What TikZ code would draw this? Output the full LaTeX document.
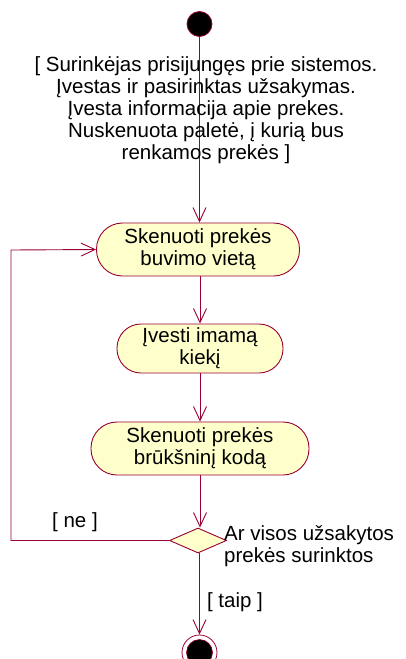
\documentclass[tikz,border=0pt]{standalone}
\usepackage{fontspec}
\setmainfont{Liberation Sans}
\usetikzlibrary{arrows.meta,shapes.geometric}
\definecolor{umlline}{HTML}{990033}
\definecolor{umlfill}{HTML}{FFFFCC}
\tikzset{
  umltext/.style={font=\fontsize{20.5}{22}\selectfont, text=black, inner sep=0pt},
  act/.style={draw=umlline, fill=umlfill, line width=0.9pt, rounded corners=26pt,
    umltext, align=center},
  flow/.style={draw=umlline, line width=0.9pt, -{Straight Barb[length=14pt,width=13pt,line width=0.9pt]}},
  plain/.style={draw=umlline, line width=0.9pt},
  decision/.style={diamond, draw=umlline, fill=umlfill, line width=0.9pt, aspect=2.3,
    minimum width=57pt, minimum height=25pt, inner sep=0pt},
}
\begin{document}
\begin{tikzpicture}[x=1pt,y=-1pt]
\useasboundingbox (0,0) rectangle (405,659);
\clip (0,0) rectangle (405,659);

% initial state
\node (start) [circle, draw=umlline, fill=black, line width=0.8pt, minimum size=25pt, inner sep=0pt] at (199.5,24) {};

% activities
\node (scanloc) [act, minimum width=203pt, minimum height=53pt] at (198,249.5) {Skenuoti prekės\\buvimo vietą};
\node (qty) [act, minimum width=166pt, minimum height=49pt, rounded corners=24pt] at (200,348.5) {Įvesti imamą\\kiekį};
\node (barcode) [act, minimum width=218pt, minimum height=53pt] at (200,448.5) {Skenuoti prekės\\brūkšninį kodą};

% decision
\node (dec) [decision] at (198,540.5) {};

% final state
\node (endring) [circle, draw=umlline, line width=0.8pt, minimum size=35pt, inner sep=0pt] at (199.5,652.5) {};
\node (enddot) [circle, draw=umlline, fill=black, line width=0.6pt, minimum size=26pt, inner sep=0pt] at (199.5,652.5) {};

% transitions
\draw[flow] (start.south) -- (start.south |- scanloc.north);
\draw[flow] (scanloc.south -| qty.north) -- (qty.north);
\draw[flow] (qty.south) -- (barcode.north);
\draw[flow] (barcode.south) -- (barcode.south |- dec.north);
\draw[flow] (dec.south -| endring.north) -- (endring.north);
\coordinate (loopbl) at (11,540.5);
\coordinate (looptl) at (11,250);
\draw[flow] (dec.west) -- (loopbl) -- (looptl) -- (scanloc.west);

% guard condition on the initial transition
\node (pre) [umltext, align=center] at (206,110) {[ Surinkėjas prisijungęs prie sistemos.\\Įvestas ir pasirinktas užsakymas.\\Įvesta informacija apie prekes.\\Nuskenuota paletė, į kurią bus\\renkamos prekės ]};

% decision labels
\node (q) [umltext, align=left, anchor=west] at (224,546) {Ar visos užsakytos\\prekės surinktos};
\node (ne) [umltext] at (75,522) {[ ne ]};
\node (taip) [umltext] at (235,602) {[ taip ]};
\end{tikzpicture}
\end{document}
